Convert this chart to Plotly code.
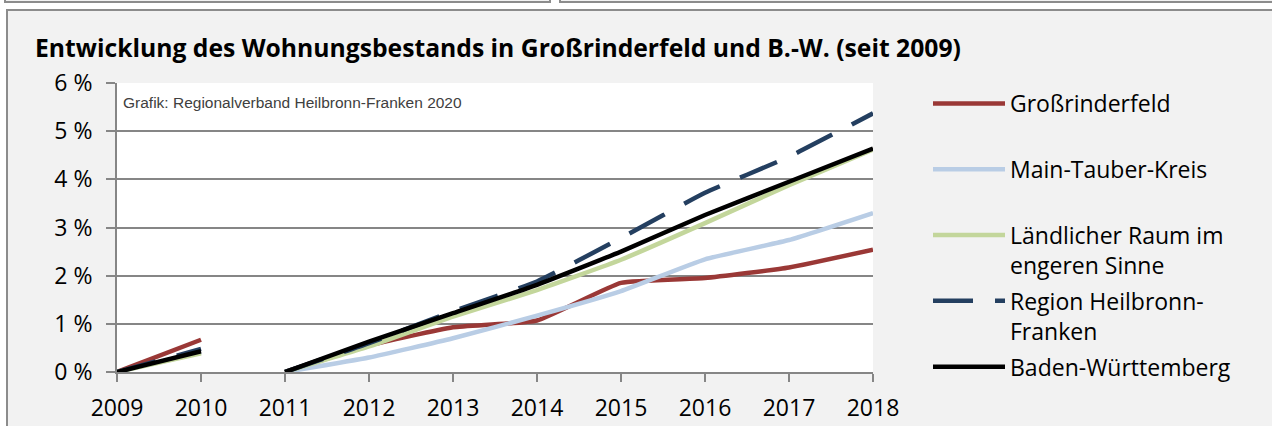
import plotly.graph_objects as go

years = [2009, 2010, 2011, 2012, 2013, 2014, 2015, 2016, 2017, 2018]
series_names = [
    "Großrinderfeld",
    "Main-Tauber-Kreis",
    "Ländlicher Raum im<br>engeren Sinne",
    "Region Heilbronn-<br>Franken",
    "Baden-Württemberg",
]
grossrinderfeld = [0.0, 0.67, 0.0, 0.55, 0.93, 1.07, 1.85, 1.95, 2.17, 2.54]
main_tauber = [0.0, 0.41, 0.0, 0.30, 0.70, 1.17, 1.68, 2.34, 2.74, 3.30]
laendlicher_raum = [0.0, 0.39, 0.0, 0.53, 1.15, 1.70, 2.33, 3.09, 3.88, 4.62]
region_hnf = [0.0, 0.48, 0.0, 0.60, 1.26, 1.88, 2.78, 3.72, 4.47, 5.37]
baden_wuerttemberg = [0.0, 0.43, 0.0, 0.63, 1.22, 1.81, 2.50, 3.26, 3.95, 4.64]
y_ticks = [0, 1, 2, 3, 4, 5, 6]
break_after = 2010  # the series restart at 0 in 2011 (census base)

colors = ["#9a3836", "#b9cde5", "#c3d69b", "#243f60", "#000000"]
dashes = ["solid", "solid", "solid", "40px,22px", "solid"]
all_values = [grossrinderfeld, main_tauber, laendlicher_raum, region_hnf, baden_wuerttemberg]

W, H = 1272, 426
L, R, T, B = 117, 399, 83, 54
PW, PH = W - L - R, H - T - B


def px(x):
    return (x - L) / PW


def py(y):
    return (H - B - y) / PH


fig = go.Figure()
for i, (name, vals, col, dash) in enumerate(zip(series_names, all_values, colors, dashes)):
    xs, ys = [], []
    for yr, v in zip(years, vals):
        xs.append(yr)
        ys.append(v)
        if yr == break_after:
            xs.append(yr + 0.5)
            ys.append(None)
    label = name if "<br>" in name else name + "<br>\u00a0"
    fig.add_trace(go.Scatter(
        x=xs, y=ys, name=label, mode="lines",
        legendgroup=f"g{i}",
        line=dict(color=col, width=4.5, dash=dash, shape="spline", smoothing=0.4),
        connectgaps=False,
    ))

FONT = "Open Sans, Noto Sans, sans-serif"

fig.update_layout(
    width=W, height=H,
    margin=dict(l=L, r=R, t=T, b=B, autoexpand=False),
    paper_bgcolor="#f2f2f2",
    plot_bgcolor="#ffffff",
    font=dict(family=FONT, color="#000000", size=23),
    title=dict(
        text="<b>Entwicklung des Wohnungsbestands in Großrinderfeld und B.-W. (seit 2009)</b>",
        font=dict(family=FONT, size=24.7, color="#000000"),
        x=35 / W, xref="container", xanchor="left",
        y=1 - 48 / H, yref="container", yanchor="middle",
    ),
    xaxis=dict(
        range=[years[0], years[-1]],
        tickvals=years,
        ticktext=[str(y) for y in years],
        showgrid=False, zeroline=False,
        showline=True, linecolor="#868686", linewidth=2,
        ticks="outside", ticklen=8, tickwidth=2, tickcolor="#868686",
        tickfont=dict(family=FONT, size=23, color="#000000"),
        ticklabelstandoff=6,
        fixedrange=True,
    ),
    yaxis=dict(
        range=[y_ticks[0], y_ticks[-1]],
        tickvals=y_ticks,
        ticktext=[f"{v} %" for v in y_ticks],
        showgrid=True, gridcolor="#868686", gridwidth=2,
        zeroline=False,
        showline=True, linecolor="#868686", linewidth=2,
        ticks="outside", ticklen=9, tickwidth=2, tickcolor="#868686",
        tickfont=dict(family=FONT, size=23, color="#000000"),
        ticklabelstandoff=9,
        fixedrange=True,
    ),
    legend=dict(
        x=px(928), xanchor="left",
        y=py(82), yanchor="top",
        bgcolor="rgba(0,0,0,0)",
        font=dict(family=FONT, size=23, color="#000000"),
        itemwidth=72,
        valign="top",
        tracegroupgap=3,
        maxheight=420,
    ),
    showlegend=True,
)

fig.add_annotation(
    text="Grafik: Regionalverband Heilbronn-Franken 2020",
    xref="paper", yref="paper", x=px(121), y=py(102),
    xanchor="left", yanchor="middle", showarrow=False,
    font=dict(family="Liberation Sans, Arial, sans-serif", size=15.5, color="#404040"),
)

# frame decorations (outer panel borders)
shapes = [
    dict(type="rect", xref="paper", yref="paper", x0=px(-5), x1=px(6), y0=py(H + 5), y1=py(-5),
         fillcolor="#ffffff", line=dict(width=0)),
    dict(type="rect", xref="paper", yref="paper", x0=px(-5), x1=px(W + 5), y0=py(9), y1=py(-5),
         fillcolor="#ffffff", line=dict(width=0)),
    dict(type="rect", xref="paper", yref="paper", x0=px(5), x1=px(550), y0=py(2), y1=py(-10),
         fillcolor="#f2f2f2", line=dict(color="#8c8c8c", width=2)),
    dict(type="rect", xref="paper", yref="paper", x0=px(560), x1=px(W + 10), y0=py(2), y1=py(-10),
         fillcolor="#f2f2f2", line=dict(color="#8c8c8c", width=2)),
    dict(type="rect", xref="paper", yref="paper", x0=px(7), x1=px(W + 20), y0=py(H + 20), y1=py(10),
         fillcolor="rgba(0,0,0,0)", line=dict(color="#8c8c8c", width=2)),
]
for s in shapes:
    s["layer"] = "below"
    fig.add_shape(**s)

fig.write_html(
    "out.html",
    config={"displayModeBar": False},
    post_script="document.body.style.margin='0';document.body.style.overflow='hidden';",
)
